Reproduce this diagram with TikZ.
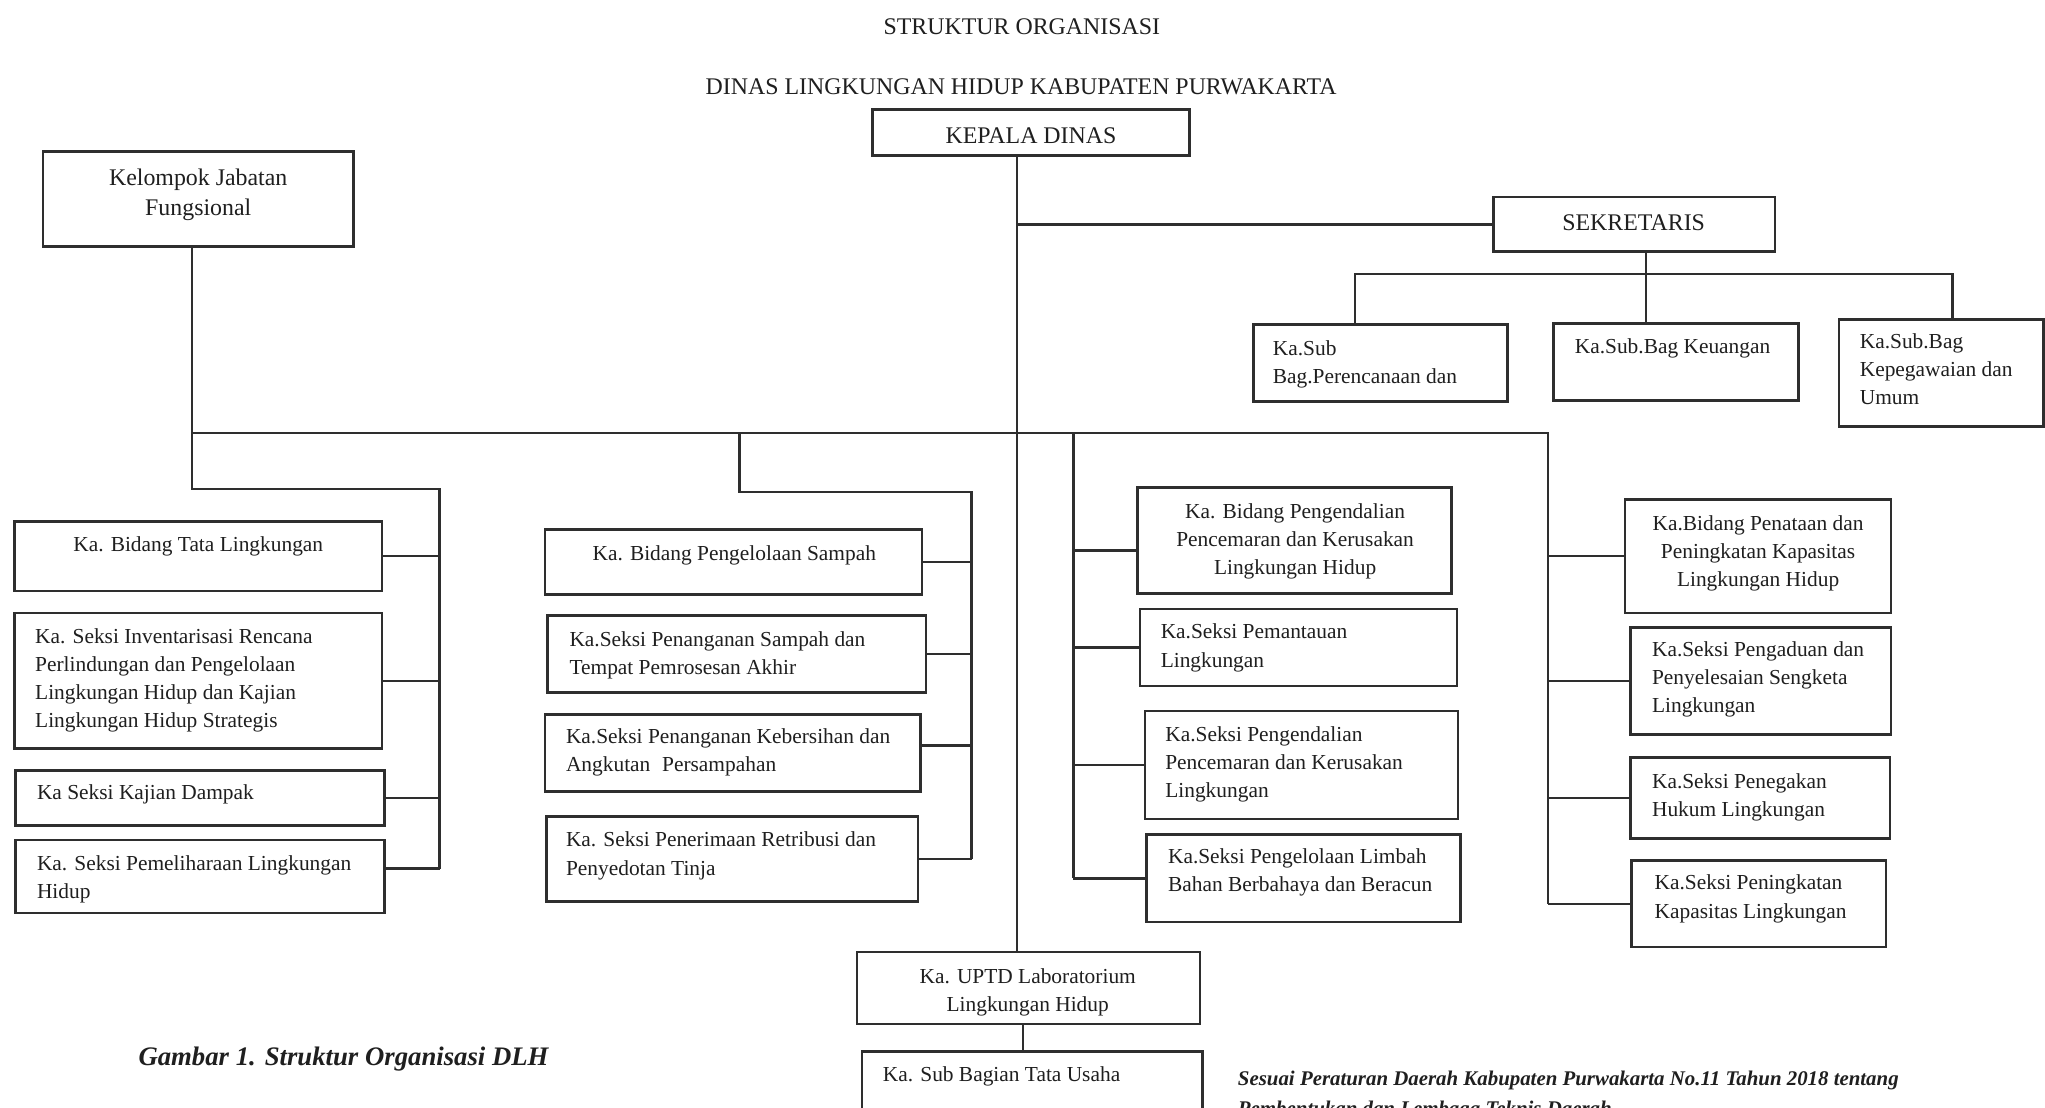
\documentclass[tikz,border=0pt]{standalone}
\usepackage{fontspec}
\setmainfont{Liberation Serif}
\newcommand\obox[5]{\node[bx, minimum width={(#4)-(#2)}, minimum height={(#5)-(#3)}] (#1) at ({((#2)+(#4))/2},{((#3)+(#5))/2}) {};}
\begin{document}
\begin{tikzpicture}[x=1pt,y=-1pt,
  bx/.style={draw=black!82, line width=2pt, rectangle, inner sep=0pt, outer sep=0pt},
  ln/.style={draw=black!82, line width=1.8pt},
  tx/.style={inner sep=0pt, outer sep=0pt, text=black!88, font=\fontsize{16.4}{21.6}\selectfont},
  hd/.style={inner sep=0pt, outer sep=0pt, text=black!88, font=\fontsize{18.3}{23}\selectfont},
  lt/.style={tx, anchor=north west, align=left},
  ct/.style={tx, anchor=north, align=center},
]
\useasboundingbox (0,0) rectangle (1568,849);
\fill[white] (0,0) rectangle (1568,849);

% ---------- boxes ----------
\obox{kd}{669}{84}{912}{119}
\obox{kjf}{33}{116}{271}{189}
\obox{sek}{1145}{151}{1361}{193}
\obox{b4}{961}{249}{1156}{308}
\obox{b5}{1191}{248}{1379}{307}
\obox{b6}{1410}{245}{1567}{327}
\obox{L1}{11}{400}{293}{453}
\obox{L2}{11}{470}{293}{574}
\obox{L3}{12}{591}{295}{633}
\obox{L4}{12}{644}{295}{700}
\obox{M1}{418}{406}{707}{456}
\obox{M2}{420}{472}{710}{531}
\obox{M3}{418}{548}{706}{607}
\obox{M4}{419}{626}{704}{691}
\obox{R1}{872}{374}{1113}{455}
\obox{R2}{874}{467}{1117}{526}
\obox{R3}{878}{545}{1118}{628}
\obox{R4}{879}{640}{1120}{707}
\obox{F1}{1246}{383}{1450}{470}
\obox{F2}{1250}{481}{1450}{563}
\obox{F3}{1250}{581}{1449}{643}
\obox{F4}{1251}{660}{1446}{726}
\obox{u1}{657}{730}{920}{785}
\obox{u2}{661}{806}{922}{880}

% ---------- junction coordinates ----------
\coordinate (jS) at (780,172);
\coordinate (sb) at (1262,210);
\coordinate (s4) at (1039,210);
\coordinate (s6) at (1497,210);
\coordinate (mK) at (147,332);
\coordinate (mF) at (1187,332);
\coordinate (lbt) at (337,375);
\coordinate (mM) at (567,332);
\coordinate (mbt) at (745,377);
\coordinate (mR) at (823,332);

% ---------- connectors ----------
\draw[ln] (kd.south -| jS) -- (u1.north -| jS);
\draw[ln] (jS) -- (sek.west);
\draw[ln] (sek.south -| sb) -- (sb) -- (b5.north -| sb);
\draw[ln] (b4.north -| s4) -- (s4) -- (s6) -- (b6.north -| s6);

\draw[ln] (kjf.south -| mK) -- (mK |- lbt) -- (lbt) -- ([yshift=6pt]L4.east -| lbt);
\draw[ln] (mK) -- (mF) -- (F4.west -| mF);
\draw[ln] (mM) -- (mM |- mbt) -- (mbt) -- (M4.east -| mbt);
\draw[ln] (mR) -- (R4.west -| mR);

\draw[ln] (L1.east) -- (L1.east -| lbt);
\draw[ln] (L2.east) -- (L2.east -| lbt);
\draw[ln] (L3.east) -- (L3.east -| lbt);
\draw[ln] ([yshift=6pt]L4.east) -- ([yshift=6pt]L4.east -| lbt);

\draw[ln] (M1.east) -- (M1.east -| mbt);
\draw[ln] (M2.east) -- (M2.east -| mbt);
\draw[ln] ([yshift=6pt]M3.east) -- ([yshift=6pt]M3.east -| mbt);
\draw[ln] (M4.east) -- (M4.east -| mbt);

\draw[ln] ([yshift=-7.5pt]R1.west -| mR) -- ([yshift=-7.5pt]R1.west);
\draw[ln] (R2.west -| mR) -- (R2.west);
\draw[ln] (R3.west -| mR) -- (R3.west);
\draw[ln] (R4.west -| mR) -- (R4.west);

\draw[ln] (F1.west -| mF) -- (F1.west);
\draw[ln] (F2.west -| mF) -- (F2.west);
\draw[ln] (F3.west -| mF) -- (F3.west);
\draw[ln] (F4.west -| mF) -- (F4.west);

\draw[ln] ([xshift=-4pt]u1.south) -- ([xshift=-4pt]u1.south |- u2.north);

% ---------- texts ----------
\node[hd, anchor=base] (title1) at (783.5,26.8) {STRUKTUR ORGANISASI};
\node[hd, anchor=base] (title2) at (783,72.8) {DINAS LINGKUNGAN HIDUP KABUPATEN PURWAKARTA};
\node[hd, anchor=base] (kdt) at (790.5,110) {KEPALA DINAS};
\node[hd, anchor=base] (sekt) at (1252.6,176.5) {SEKRETARIS};
\node[hd, anchor=north, align=center] (kjft) at (152,129.4) {Kelompok Jabatan\\Fungsional};
\node[lt] (b4t) at (976,261) {Ka.Sub\\Bag.Perencanaan dan};
\node[lt] (b5t) at (1207.5,259.5) {Ka.Sub.Bag Keuangan};
\node[lt] (b6t) at (1426,255.5) {Ka.Sub.Bag\\Kepegawaian dan\\Umum};
\node[ct] (L1t) at (152,411.7) {Ka. Bidang Tata Lingkungan};
\node[lt] (L2t) at (27,482) {Ka. Seksi Inventarisasi Rencana\\Perlindungan dan Pengelolaan\\Lingkungan Hidup dan Kajian\\Lingkungan Hidup Strategis};
\node[lt] (L3t) at (28.4,602) {Ka Seksi Kajian Dampak};
\node[lt] (L4t) at (28.4,656) {Ka. Seksi Pemeliharaan Lingkungan\\Hidup};
\node[ct] (M1t) at (563,418) {Ka. Bidang Pengelolaan Sampah};
\node[lt] (M2t) at (436.7,484.5) {Ka.Seksi Penanganan Sampah dan\\Tempat Pemrosesan Akhir};
\node[lt] (M3t) at (434,558.5) {Ka.Seksi Penanganan Kebersihan dan\\Angkutan\hspace{0.3em} Persampahan};
\node[lt] (M4t) at (434,638) {Ka. Seksi Penerimaan Retribusi dan\\Penyedotan Tinja};
\node[ct] (R1t) at (993,386) {Ka. Bidang Pengendalian\\Pencemaran dan Kerusakan\\Lingkungan Hidup};
\node[lt] (R2t) at (890,478.5) {Ka.Seksi Pemantauan\\Lingkungan};
\node[lt] (R3t) at (893.5,557) {Ka.Seksi Pengendalian\\Pencemaran dan Kerusakan\\Lingkungan};
\node[lt] (R4t) at (895.6,650.5) {Ka.Seksi Pengelolaan Limbah\\Bahan Berbahaya dan Beracun};
\node[ct] (F1t) at (1348,395) {Ka.Bidang Penataan dan\\Peningkatan Kapasitas\\Lingkungan Hidup};
\node[lt] (F2t) at (1266.7,492) {Ka.Seksi Pengaduan dan\\Penyelesaian Sengketa\\Lingkungan};
\node[lt] (F3t) at (1266.7,593) {Ka.Seksi Penegakan\\Hukum Lingkungan};
\node[lt] (F4t) at (1268.7,671) {Ka.Seksi Peningkatan\\Kapasitas Lingkungan};
\node[ct] (U1t) at (788,742.5) {Ka. UPTD Laboratorium\\Lingkungan Hidup};
\node[lt] (U2t) at (677,818) {Ka. Sub Bagian Tata Usaha};
\node[anchor=base west, inner sep=0pt, text=black!88, font=\fontsize{20.5}{24}\selectfont\bfseries\itshape] (cap1) at (106,816.6) {Gambar 1. Struktur Organisasi DLH};
\node[anchor=north west, align=left, inner sep=0pt, text=black!88, font=\fontsize{16}{23}\selectfont\bfseries\itshape] (cap2) at (949,821) {Sesuai Peraturan Daerah Kabupaten Purwakarta No.11 Tahun 2018 tentang\\Pembentukan dan Lembaga Teknis Daerah};
\end{tikzpicture}
\end{document}
